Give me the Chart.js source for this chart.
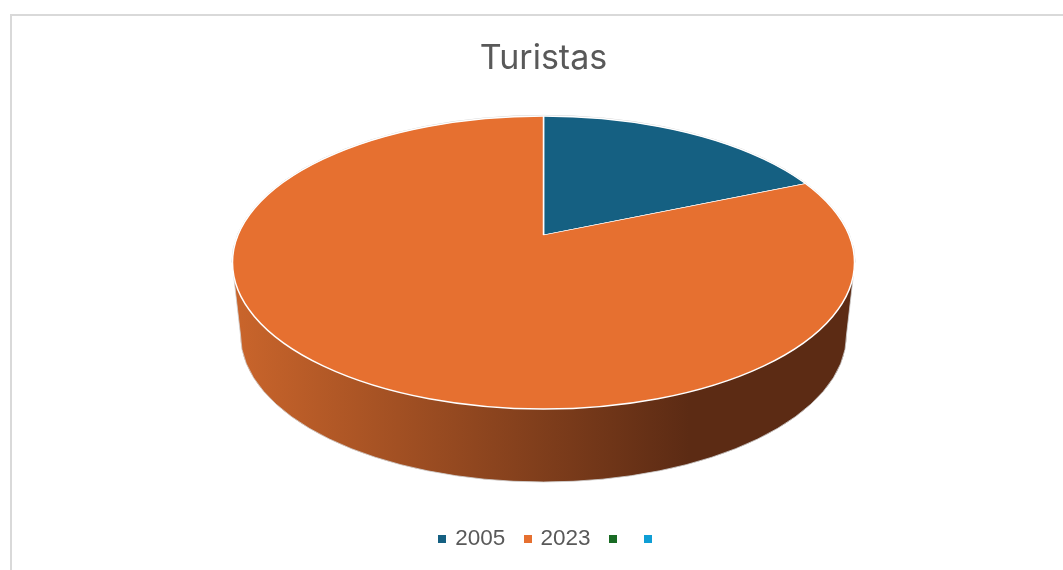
<!DOCTYPE html>
<html>
<head>
<meta charset="utf-8">
<title>Turistas</title>
<style>
  html, body { margin: 0; padding: 0; background: #fff; overflow: hidden; }
  #frame { position: absolute; left: 10px; top: 14px; width: 1053px; height: 556px;
           border-left: 2px solid #d9d9d9; border-top: 2px solid #d9d9d9; }
  #wrap { position: absolute; left: 0; top: 0; width: 1063px; height: 570px; }
</style>
<script src="https://cdn.jsdelivr.net/npm/chart.js@4"></script>
</head>
<body>
<div id="frame"></div>
<div id="wrap"><canvas id="piechart-turistas"></canvas></div>
<script>
const categories = ['2005', '2023', '', ''];
const turistas = [18.7, 81.3, 0, 0];
const sliceColors = ['#156082', '#E67030', '#196B24', '#0F9ED5'];

// Geometria da "pizza 3D" (a parte de cima é uma elipse, o centro fica deslocado)
const topo = { x: 543.5, y: 262.5, rx: 311, ry: 146.5 };
const base = { x: 543.5, y: 335, rx: 303, ry: 147 };
const centroY = 235;
const achatamento = 0.47;

function quadradoLegenda(color) {
    const c = document.createElement('canvas');
    c.width = 8;
    c.height = 8;
    const g = c.getContext('2d');
    g.fillStyle = color;
    g.fillRect(0, 0, 8, 8);
    return c;
}

function desenhaLateral(ctx) {
    const grad = ctx.createLinearGradient(base.x - base.rx, 0, base.x + base.rx, 0);
    grad.addColorStop(0, '#C8642B');
    grad.addColorStop(0.74, '#5C2B14');
    grad.addColorStop(1, '#5C2B14');

    ctx.beginPath();
    ctx.moveTo(topo.x - topo.rx + 1, topo.y + 12);
    ctx.lineTo(base.x - base.rx, base.y);
    ctx.ellipse(base.x, base.y, base.rx, base.ry, 0, Math.PI, 0, true);
    ctx.lineTo(topo.x + topo.rx - 1, topo.y + 12);
    ctx.closePath();
    ctx.fillStyle = grad;
    ctx.fill();
    ctx.strokeStyle = '#D0D0D0';
    ctx.lineWidth = 0.8;
    ctx.stroke();
}

const pizza3d = {
    id: 'pizza3d',
    afterLayout(chart) {
        // a legenda do original fica um pouco à direita do centro
        chart.legend.left += 7.5;
        chart.legend.right += 7.5;
    },
    beforeDatasetsDraw(chart) {
        const ctx = chart.ctx;
        const arco = chart.getDatasetMeta(0).data[0];
        desenhaLateral(ctx);
        ctx.save();
        ctx.beginPath();
        ctx.ellipse(topo.x, topo.y, topo.rx, topo.ry, 0, 0, Math.PI * 2);
        ctx.clip();
        ctx.translate(topo.x, centroY);
        ctx.scale(1, achatamento);
        ctx.translate(-arco.x, -arco.y);
    },
    afterDatasetsDraw(chart) {
        const ctx = chart.ctx;
        ctx.restore();
        ctx.beginPath();
        ctx.ellipse(topo.x, topo.y, topo.rx + 0.6, topo.ry + 0.6, 0, Math.PI, 0);
        ctx.strokeStyle = '#CFCFCF';
        ctx.lineWidth = 1;
        ctx.stroke();
        ctx.beginPath();
        ctx.ellipse(topo.x, topo.y, topo.rx, topo.ry, 0, 0, Math.PI * 2);
        ctx.strokeStyle = '#FFFFFF';
        ctx.lineWidth = 1.5;
        ctx.stroke();
    }
};

document.addEventListener('DOMContentLoaded', function () {
    const ctx = document.getElementById('piechart-turistas').getContext('2d');
    window.chartInstanceTuristas = new Chart(ctx, {
        type: 'pie',
        data: {
            labels: categories,
            datasets: [{
                data: turistas,
                backgroundColor: sliceColors,
                borderColor: '#FFFFFF',
                borderWidth: 1.5,
                radius: 420
            }]
        },
        options: {
            responsive: true,
            maintainAspectRatio: false,
            animation: false,
            layout: { padding: { left: 24, top: 38, bottom: 10 } },
            plugins: {
                title: {
                    display: true,
                    text: 'Turistas',
                    color: '#595959',
                    font: { family: 'Inter', size: 34, weight: 'normal' },
                    padding: 0
                },
                legend: {
                    position: 'bottom',
                    labels: {
                        color: '#595959',
                        font: { family: '"Liberation Sans"', size: 22.5 },
                        usePointStyle: true,
                        boxWidth: 3,
                        boxHeight: 8,
                        padding: 21,
                        generateLabels(chart) {
                            const itens = Chart.overrides.pie.plugins.legend.labels.generateLabels(chart);
                            return itens.map((item, i) => ({ ...item, pointStyle: quadradoLegenda(sliceColors[i]) }));
                        }
                    }
                },
                tooltip: { enabled: false }
            }
        },
        plugins: [pizza3d]
    });
});
</script>
</body>
</html>
